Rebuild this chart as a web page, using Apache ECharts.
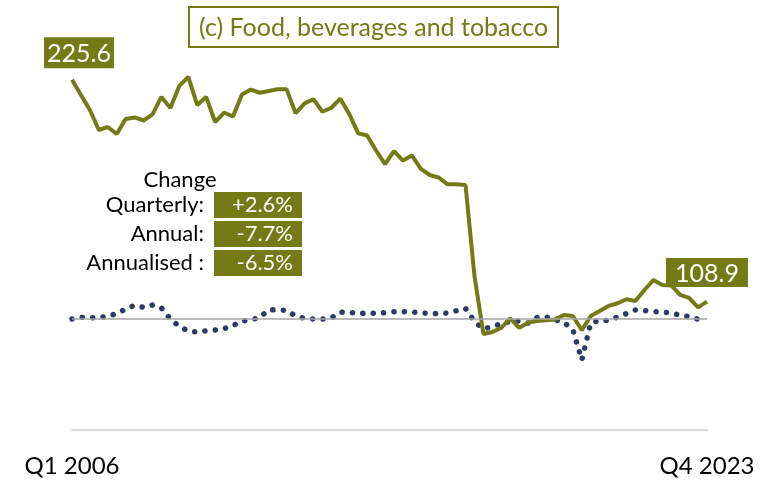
<!DOCTYPE html>
<html>
<head>
<meta charset="utf-8">
<script src="https://cdn.jsdelivr.net/npm/echarts@6/dist/echarts.min.js"></script>
<style>
  html, body { margin: 0; padding: 0; background: #fff; }
  #food-chart { width: 773px; height: 480px; }
</style>
</head>
<body>
<div id="food-chart"></div>
<script>
// quarters Q1 2006 .. Q4 2023
const quarters = [];
for (let y = 2006; y <= 2023; y++) {
  for (let q = 1; q <= 4; q++) quarters.push("Q" + q + " " + y);
}

// index level (green line)
const indexValues = [
  225.6, 217.6, 209.7, 199.2, 200.8, 197.1, 205.0, 205.8, 204.2, 207.4,
  216.6, 210.8, 222.4, 227.1, 212.4, 216.6, 203.4, 208.4, 206.3, 217.9,
  220.5, 218.8, 219.7, 220.6, 220.6, 208.0, 213.2, 215.4, 208.8, 210.9,
  215.7, 207.6, 197.4, 196.3, 188.4, 181.2, 188.1, 183.1, 185.8, 178.7,
  175.5, 174.2, 170.6, 170.6, 170.2, 122.4, 91.8, 92.9, 95.0, 100.1,
  95.1, 97.8, 98.7, 99.1, 99.5, 101.8, 101.3, 93.9, 101.3, 103.9,
  106.6, 108.0, 110.1, 109.2, 115.0, 120.2, 117.6, 117.4, 112.4, 110.8,
  105.8, 108.9
];

// growth (dotted line, second axis)
const growthValues = [
  0.0, 0.23, 0.16, 0.2, 0.35, 0.74, 1.35, 1.85, 1.58, 1.89,
  1.49, 0.0, -1.01, -1.62, -1.78, -1.59, -1.49, -1.31, -0.88, -0.27,
  -0.14, 0.24, 1.22, 1.26, 1.15, 0.41, 0.08, 0.0, -0.02, 0.16,
  0.91, 0.89, 0.74, 0.78, 0.78, 0.85, 0.99, 0.99, 0.95, 0.84,
  0.74, 0.72, 0.81, 1.12, 1.42, -0.34, -1.35, -1.03, -0.64, -0.34,
  -0.27, -0.54, 0.19, 0.27, -0.09, -0.47, -1.42, -5.54, -0.54, -0.18,
  -0.2, 0.27, 0.74, 1.22, 1.14, 1.01, 0.93, 0.81, 0.49, 0.32,
  -0.03, -0.27
];

const changeLabels = ["Quarterly:", "Annual:", "Annualised :"];
const changeValues = ["+2.6%", "-7.7%", "-6.5%"];

const OLIVE = "#747a16";
const NAVY = "#2e3a66";
const FONT = "Lato";

const lastIdx = indexValues.length - 1;

// change table as graphics
const tableGraphics = [{
  type: "text",
  style: { text: "Change", x: 180, y: 180, fill: "#000", font: "22px " + FONT, align: "center", verticalAlign: "middle" }
}];
changeLabels.forEach((lab, i) => {
  const top = 192 + i * 29;
  tableGraphics.push({
    type: "text",
    style: { text: lab, x: 204, y: top + 13, fill: "#000", font: "22px " + FONT, align: "right", verticalAlign: "middle" }
  });
  tableGraphics.push({
    type: "rect",
    shape: { x: 214, y: top, width: 88, height: 26 },
    style: { fill: OLIVE }
  });
  tableGraphics.push({
    type: "text",
    style: { text: changeValues[i], x: 293, y: top + 13, fill: "#fff", font: "22px " + FONT, align: "right", verticalAlign: "middle" }
  });
});

const myChart = echarts.init(document.getElementById("food-chart"), null, { renderer: "canvas" });
myChart.setOption({
  animation: false,
  backgroundColor: "#fff",
  title: {
    text: "(c) Food, beverages and tobacco",
    left: 189,
    top: 7,
    padding: [8, 10, 7, 10],
    borderColor: OLIVE,
    borderWidth: 2,
    textStyle: { color: OLIVE, fontSize: 25, fontWeight: "normal", fontFamily: FONT }
  },
  grid: { left: 72, right: 66, top: 50, bottom: 50 },
  xAxis: {
    type: "category",
    boundaryGap: false,
    data: quarters,
    axisLine: { onZero: false, lineStyle: { color: "#d9d9d9", width: 2 } },
    axisTick: { show: false },
    axisLabel: {
      interval: (i) => i === 0 || i === lastIdx,
      margin: 24,
      color: "#000",
      fontSize: 24,
      fontFamily: FONT
    },
    splitLine: { show: false }
  },
  yAxis: [
    { type: "value", min: 41.3, max: 241.3, show: false },
    { type: "value", min: -15, max: 36.35, show: false }
  ],
  series: [
    {
      name: "growth",
      type: "line",
      yAxisIndex: 1,
      data: growthValues,
      showSymbol: false,
      lineStyle: { color: NAVY, width: 5.5, type: [0.1, 10.3], cap: "round" },
      z: 2,
      markLine: {
        silent: true,
        symbol: "none",
        label: { show: false },
        lineStyle: { color: "#a6a6a6", width: 1.5, type: "solid" },
        data: [{ yAxis: 0 }]
      }
    },
    {
      name: "index",
      type: "line",
      data: indexValues,
      showSymbol: false,
      lineStyle: { color: OLIVE, width: 4 },
      z: 3,
      markPoint: {
        silent: true,
        symbol: "circle",
        symbolSize: 1,
        itemStyle: { color: "rgba(0,0,0,0)" },
        label: {
          show: true,
          position: "top",
          color: "#fff",
          backgroundColor: OLIVE,
          fontSize: 25,
          fontFamily: FONT,
          padding: [4, 3, 2, 3]
        },
        data: [
          { coord: [0, indexValues[0]], value: indexValues[0], label: { distance: 11, offset: [7, 0] } },
          { coord: [lastIdx, indexValues[lastIdx]], value: indexValues[lastIdx], label: { distance: 14, padding: [3, 9, 1, 9] } }
        ]
      }
    }
  ],
  graphic: tableGraphics
});
</script>
</body>
</html>
